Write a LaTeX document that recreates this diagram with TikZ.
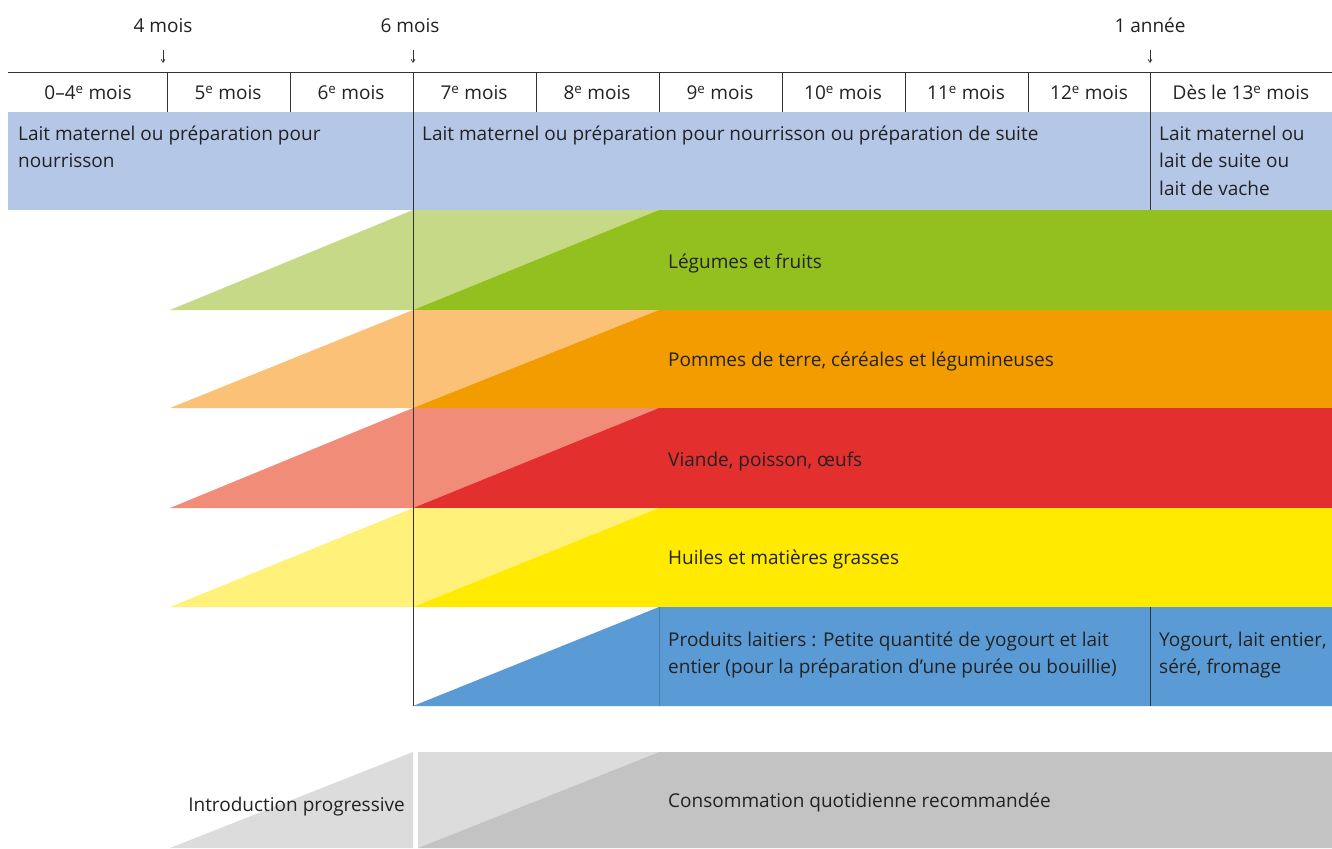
\documentclass[tikz,border=0pt]{standalone}
\usepackage{fontspec}
\setmainfont{Open Sans}
\usetikzlibrary{arrows.meta}
\definecolor{ink}{HTML}{222222}
\definecolor{rule}{HTML}{333333}
\definecolor{milk}{HTML}{B4C7E7}
\definecolor{grnL}{HTML}{C5D986}
\definecolor{grnD}{HTML}{93C01F}
\definecolor{orgL}{HTML}{FBC177}
\definecolor{orgD}{HTML}{F39C00}
\definecolor{redL}{HTML}{F08C78}
\definecolor{redD}{HTML}{E3302F}
\definecolor{yelL}{HTML}{FFF17A}
\definecolor{yelD}{HTML}{FFEA00}
\definecolor{bluD}{HTML}{5B9BD5}
\definecolor{bluLine}{HTML}{4A7FB5}
\definecolor{gryL}{HTML}{DCDCDC}
\definecolor{gryD}{HTML}{C3C3C3}
\newcommand{\stackl}[1]{\vtop{\halign{##\hfil\cr#1\crcr}}}
\begin{document}
\begin{tikzpicture}[x=1pt,y=-1pt,
  txt/.style={inner sep=0pt, text=ink, font=\fontsize{19}{27.5}\selectfont},
  hdr/.style={txt, anchor=base},
  lbl/.style={txt, anchor=base west},
  rulel/.style={draw=rule, line width=1pt},
  downarrow/.style={draw=rule, line width=0.7pt, -{Straight Barb[length=3pt,width=4pt]}}]
\useasboundingbox (0,0) rectangle (1332,848);
\fill[white] (0,0) rectangle (1332,848);

% milk band
\fill[milk] (8,112) rectangle (1332,210);

% food bands
\foreach \t/\b/\cl/\cd in {210/310/grnL/grnD, 310/408/orgL/orgD, 408/508/redL/redD, 508/607/yelL/yelD}{
  \fill[\cl] (170,\b) -- (413,\t) -- (659,\t) -- (413,\b) -- cycle;
  \fill[\cd] (413,\b) -- (659,\t) -- (1332,\t) -- (1332,\b) -- cycle;
}
\fill[bluD] (413,706) -- (659,607) -- (1332,607) -- (1332,706) -- cycle;
\draw[bluLine, line width=0.8pt] (659,607) -- (659,706);
\draw[rulel] (1150,607) -- (1150,706);

% legend band
\fill[gryL] (170,848) -- (413,752) -- (413,848) -- cycle;
\fill[gryL] (418,752) -- (659,752) -- (418,848) -- cycle;
\fill[gryD] (418,848) -- (659,752) -- (1332,752) -- (1332,848) -- cycle;

% header rules
\draw[rulel] (8,73) -- (1332,73);
\foreach \x in {167,290,536,659,782,905,1028}{
  \draw[rulel] (\x,73) -- (\x,112);
}
\draw[rulel] (413,73) -- (413,706);
\draw[rulel] (1150,73) -- (1150,210);

% top markers
\node[hdr] (m4) at (163,33) {4 mois};
\node[hdr] (m6) at (410,33) {6 mois};
\node[hdr] (m12) at (1150,33) {1 année};
\coordinate (m4a) at (163,50); \coordinate (m4b) at (163,63);
\coordinate (m6a) at (413,50); \coordinate (m6b) at (413,63);
\coordinate (m12a) at (1150,50); \coordinate (m12b) at (1150,63);
\draw[downarrow] (m4a) -- (m4b);
\draw[downarrow] (m6a) -- (m6b);
\draw[downarrow] (m12a) -- (m12b);

% column headers
\node[hdr] (c0) at (88,100) {0–4\textsuperscript{e} mois};
\node[hdr] (c5) at (228,100) {5\textsuperscript{e} mois};
\node[hdr] (c6) at (351,100) {6\textsuperscript{e} mois};
\node[hdr] (c7) at (474,100) {7\textsuperscript{e} mois};
\node[hdr] (c8) at (597,100) {8\textsuperscript{e} mois};
\node[hdr] (c9) at (720,100) {9\textsuperscript{e} mois};
\node[hdr] (c10) at (843,100) {10\textsuperscript{e} mois};
\node[hdr] (c11) at (966,100) {11\textsuperscript{e} mois};
\node[hdr] (c12) at (1089,100) {12\textsuperscript{e} mois};
\node[hdr] (c13) at (1241,100) {Dès le 13\textsuperscript{e} mois};

% milk texts
\node[lbl] (milk1) at (18,140) {\stackl{Lait maternel ou préparation pour\cr nourrisson}};
\node[lbl] (milk2) at (422,140) {Lait maternel ou préparation pour nourrisson ou préparation de suite};
\node[lbl] (milk3) at (1159,140) {\stackl{Lait maternel ou\cr lait de suite ou\cr lait de vache}};

% food texts
\node[lbl] (f1) at (668,268) {Légumes et fruits};
\node[lbl] (f2) at (668,366) {Pommes de terre, céréales et légumineuses};
\node[lbl] (f3) at (668,466) {Viande, poisson, œufs};
\node[lbl] (f4) at (668,564) {Huiles et matières grasses};
\node[lbl] (f5) at (668,646) {\stackl{Produits laitiers : Petite quantité de yogourt et lait\cr entier (pour la préparation d’une purée ou bouillie)}};
\node[lbl] (f6) at (1159,646) {\stackl{Yogourt, lait entier,\cr séré, fromage}};

% legend texts
\node[txt, anchor=base east] (l1) at (405,811) {Introduction progressive};
\node[lbl] (l2) at (668,807) {Consommation quotidienne recommandée};
\end{tikzpicture}
\end{document}
